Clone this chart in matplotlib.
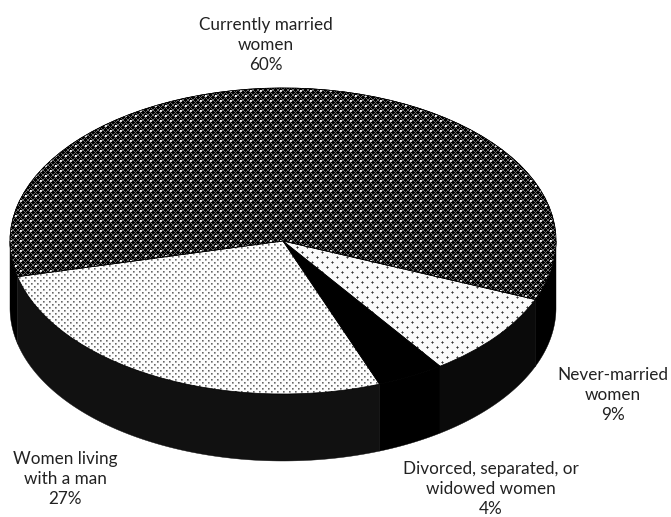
import numpy as np
import matplotlib
matplotlib.use("Agg")
import matplotlib.pyplot as plt
from matplotlib.patches import Wedge

labels = ["Currently married\nwomen\n60%", "Women living\nwith a man\n27%",
          "Divorced, separated, or\nwidowed women\n4%", "Never-married\nwomen\n9%"]
shares = [60, 27, 4, 9]
wall_colors = ["#000000", "#111111", "#000000", "#0a0a0a"]
label_px = [(266, 45), (65, 479), (491, 489), (613, 395)]

W, H = 671, 517
cx, cy = 283, 241  # centre of top ellipse, pixels
rx, ry = 273, 153
depth = 67 / ry
start = -22.5


def married_tile():
	t = np.zeros((10, 10))
	for i in range(10):
		for j in range(10):
			if (i + j) % 5 == 2 or (i - j) % 5 == 2:
				t[i, j] = 0.42
	for i, j in [(0, 0), (5, 5)]:
		t[i, j] = 1.0
		t[i, (j + 1) % 10] = 0.9
		t[(i + 1) % 10, j] = 0.9
		t[(i + 1) % 10, (j + 1) % 10] = 0.8
	return t


def never_tile():
	t = np.full((10, 10), 0.98)
	for i, j in [(2, 2), (7, 7)]:
		t[i, j] = 0.2
		t[i - 1, j] = 0.5
		t[i + 1, j] = 0.5
		t[i, j - 1] = 0.5
		t[i, j + 1] = 0.5
	return t


def living_tile():
	t = np.full((6, 6), 0.99)
	for i, j in [(1, 1), (4, 4)]:
		t[i, j] = 0.4
		t[i, j + 1] = 0.62
		t[i + 1, j] = 0.62
		t[i + 1, j + 1] = 0.75
	return t


def texture(tile):
	ny = H // tile.shape[0] + 1
	nx = W // tile.shape[1] + 1
	return np.tile(tile, (ny, nx))[:H, :W]


textures = [married_tile(), living_tile(), None, never_tile()]

fig = plt.figure(figsize=(W / 100, H / 100), dpi=100)
ax = fig.add_axes([0, 0, 1, 1])

xlim = ((0 - cx) / rx, (W - cx) / rx)
ylim = ((cy - H) / ry, cy / ry)

# side wall first
edges = start + np.cumsum([0] + shares) * 3.6
for k in range(len(shares)):
	for a0, a1 in [(edges[k], edges[k + 1]), (edges[k] - 360, edges[k + 1] - 360)]:
		lo, hi = max(a0, -180), min(a1, 0)
		if hi <= lo:
			continue
		t = np.radians(np.linspace(lo, hi, 120))
		xs = np.r_[np.cos(t), np.cos(t)[::-1]]
		ys = np.r_[np.sin(t), np.sin(t)[::-1] - depth]
		ax.fill(xs, ys, color=wall_colors[k], lw=0.3, zorder=1)

wedges, _ = ax.pie(shares, startangle=start, colors=["k"] * 4, radius=1,
		wedgeprops=dict(linewidth=0.5, edgecolor="k"))
for w in wedges:
	w.set_zorder(2)

ext = (xlim[0], xlim[1], ylim[0], ylim[1])
for w, tile in zip(wedges, textures):
	if tile is None:
		continue
	im = ax.imshow(texture(tile), cmap="gray", vmin=0, vmax=1, extent=ext,
			interpolation="nearest", aspect="auto", zorder=3)
	im.set_clip_path(w)

# outline back on top of the textures
for w in wedges:
	ax.add_patch(Wedge((0, 0), 1, w.theta1, w.theta2, fill=False, ec="k", lw=0.5, zorder=4))

ax.set_aspect("auto")
ax.set_xlim(*xlim)
ax.set_ylim(*ylim)
ax.axis("off")

for lab, (px, py) in zip(labels, label_px):
	fig.text(px / W, 1 - py / H, lab, ha="center", va="center", ma="center",
			family="Lato", fontsize=12.3, color="#222222", linespacing=1.31)

fig.savefig("out.png", dpi=100)
